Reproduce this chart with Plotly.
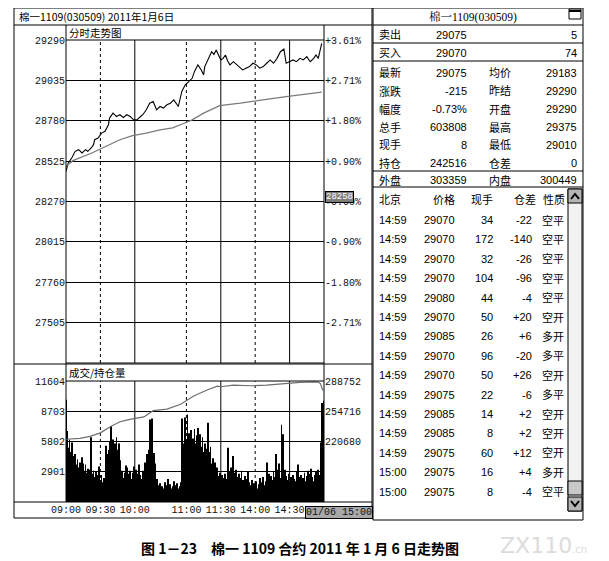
import plotly.graph_objects as go

# ---- data ----
price_ticks = [29290, 29035, 28780, 28525, 28270, 28015, 27760, 27505]
pct_labels = ["+3.61%", "+2.71%", "+1.80%", "+0.90%", "+0.00%", "-0.90%", "-1.80%", "-2.71%"]
vol_ticks = [2901, 5802, 8703, 11604]
oi_ticks = [220680, 254716, 288752]

time_ticks = [0, 30, 60, 105, 135, 165, 195]
time_labels = ["09:00", "09:30", "10:00", "11:00", "11:30", "14:00", "14:30"]
grid_min = [30, 60, 105, 135, 165, 195]
grid_dash = ["dot", "solid", "dot", "solid", "dot", "solid"]

# minute index from 09:00 (0..225)
price_min = [0, 2, 5, 8, 11, 14, 17, 19, 22, 24, 25, 28, 31, 34, 37, 38, 41, 44, 47, 50,
             53, 56, 59, 62, 65, 67, 70, 73, 76, 79, 82, 85, 88, 91, 94, 97, 98, 101, 104, 107,
             110, 112, 115, 118, 120, 121, 124, 127, 129, 131, 133, 135, 137, 139, 141, 143, 146, 149, 152, 154,
             157, 160, 163, 166, 169, 172, 175, 178, 181, 184, 187, 190, 192, 195, 198, 201, 204, 207, 210, 213,
             216, 218, 220, 223]
price_val = [28461, 28514, 28545, 28587, 28597, 28577, 28597, 28587, 28608, 28629, 28660, 28671, 28702, 28713, 28755, 28797, 28828, 28807, 28818, 28801,
             28818, 28807, 28786, 28786, 28807, 28818, 28849, 28891, 28902, 28849, 28870, 28860, 28881, 28891, 28912, 28881, 28870, 28965, 29007, 29027,
             29048, 29090, 29133, 29101, 29070, 29122, 29164, 29216, 29199, 29227, 29195, 29164, 29174, 29195, 29157, 29133, 29153, 29133, 29112, 29101,
             29112, 29122, 29143, 29133, 29112, 29122, 29143, 29164, 29143, 29174, 29216, 29233, 29143, 29153, 29164, 29153, 29174, 29164, 29185, 29153,
             29174, 29195, 29174, 29269]

avg_min = [0, 6, 23, 35, 47, 58, 70, 82, 93, 102, 110, 120, 134, 152, 166, 192, 223]
avg_val = [28493, 28528, 28578, 28618, 28660, 28686, 28702, 28723, 28735, 28761, 28786, 28828, 28876, 28891, 28906, 28933, 28961]

volume = [9800,
          6800, 5200, 6000,
          4800, 5700, 4400, 3900, 4600,
          3600, 4100, 3300, 3800, 3400, 4300, 3700,
          3000, 3600, 2800, 3200, 2600, 3100,
          6200,
          2700, 3000, 2400, 2900, 2300, 2600, 3400,
          2100, 2600, 1900, 2300, 2000,
          5400, 4600, 5000,
          5800, 7300,
          5200, 6000, 4800, 5600, 6200, 5000,
          5600, 4000,
          2600, 3000, 2300, 2800, 3500,
          3300, 2700, 2400, 3000, 2200,
          2800, 3400, 2500, 3100, 2300, 2700, 3600, 2600, 2200, 3000, 2400, 3800, 3200,
          4600, 5000, 7900, 4300,
          8000, 4400, 4700,
          3700, 2200, 1600,
          1400, 1800, 1200, 1500, 1300, 1900, 1100, 1600, 2200, 1400, 1700, 1300, 1500, 2000, 1200, 1600, 1800, 1300, 1500, 1900,
          8000, 5600, 4900,
          8100, 6000, 8400,
          6600, 5800, 6900, 5400, 6100, 7000, 5600, 6400, 7100,
          5900, 6500, 5300, 6200, 4800, 5600,
          4400, 5100, 7600,
          4800, 5300, 3700, 4200, 3400, 3800,
          2900, 3300, 2500, 2800, 2100, 2600, 2300, 2000, 2700, 2200,
          5200,
          2400, 2900, 3300, 2600, 4400, 2800, 3100, 2400, 2000,
          2700, 2300, 3000, 2100, 1800, 2500, 2200, 1700, 2900, 1900,
          1600, 2100, 1400, 1800, 1500, 2000, 1300, 1700, 2300, 1500,
          1900, 2400, 1600, 2000, 3800,
          2200, 2700, 1900, 2500,
          2100, 2900, 2400, 4600,
          2600, 3100, 3700,
          2300, 7400,
          6500, 2800, 3100,
          2500, 2100, 2700, 1900, 2400, 1800, 2600, 2200, 2000,
          2900, 3600, 2400,
          2100, 2600, 1900, 2300, 2800, 2000, 2500, 3000, 2200,
          2700, 3200, 2400, 2000, 2600, 2900,
          2300, 3100, 2600,
          5700, 9500, 8700, 9700]

oi_min = [0, 12, 21, 30, 39, 47, 53, 59, 68, 76, 88, 100, 111, 123, 132, 135, 146, 161, 175, 190, 204, 216, 220, 222, 224]
oi_val = [223190, 224300, 226400, 230400, 237500, 242900, 244700, 246500, 248300, 255400, 257200, 262600, 271500, 278700, 283000, 282300,
          284100, 283400, 284100, 285900, 287300, 287700, 287500, 285500, 278000]

# right hand quote panel
panel_title = "棉一1109(030509)"
sell_row = ["卖出", "29075", "5"]
buy_row = ["买入", "29070", "74"]
quote_rows = [["最新", "29075", "均价", "29183"],
              ["涨跌", "-215", "昨结", "29290"],
              ["幅度", "-0.73%", "开盘", "29290"],
              ["总手", "603808", "最高", "29375"],
              ["现手", "8", "最低", "29010"],
              ["持仓", "242516", "仓差", "0"]]
outer_row = ["外盘", "303359", "内盘", "300449"]
trade_head = ["北京", "价格", "现手", "仓差", "性质"]
trade_time = ["14:59", "14:59", "14:59", "14:59", "14:59", "14:59", "14:59", "14:59",
              "14:59", "14:59", "14:59", "14:59", "14:59", "15:00", "15:00"]
trade_price = [29070, 29070, 29070, 29070, 29080, 29070, 29085, 29070, 29070, 29075, 29085, 29085, 29075, 29075, 29075]
trade_vol = [34, 172, 32, 104, 44, 50, 26, 96, 50, 22, 14, 8, 60, 16, 8]
trade_oi = ["-22", "-140", "-26", "-96", "-4", "+20", "+6", "-20", "+26", "-6", "+2", "+2", "+12", "+4", "-4"]
trade_type = ["空平", "空平", "空平", "空平", "空平", "空开", "多开", "多平", "空开", "多平", "空开", "空开", "空开", "多开", "空平"]

W, H = 609, 561
OFF = 8  # page body margin, layout positions below are screen pixels
MONO = "Liberation Mono"
SANS = "Liberation Sans, Noto Sans CJK SC"
CJK = "Noto Sans CJK SC"


def X(px):
    return (px - OFF) / W


def Y(py):
    return 1 - (py - OFF) / H


fig = go.Figure()
# average price drawn on the percent axis (same range as price axis) so that axis gets drawn
fig.add_trace(go.Scatter(x=avg_min, y=avg_val, mode="lines", line=dict(color="#7a7a7a", width=1.3),
                         xaxis="x", yaxis="y4", hoverinfo="skip"))
fig.add_trace(go.Scatter(x=price_min, y=price_val, mode="lines", line=dict(color="black", width=1.1),
                         xaxis="x", yaxis="y"))
fig.add_trace(go.Bar(x=list(range(len(volume))), y=volume, marker=dict(color="black", line=dict(width=0)),
                     xaxis="x2", yaxis="y2"))
fig.add_trace(go.Scatter(x=oi_min, y=oi_val, mode="lines", line=dict(color="#6e6e6e", width=1.2),
                         xaxis="x2", yaxis="y3"))

tick_font = dict(family=MONO, size=10, color="#111")
xdom = [X(66), X(324)]
ax_common = dict(automargin=False, zeroline=False, ticks="", tickfont=tick_font, tickformat="d")
fig.update_layout(
    template="none",
    width=W, height=H, margin=dict(l=0, r=0, t=0, b=0, pad=0), autosize=False,
    paper_bgcolor="white", plot_bgcolor="white", showlegend=False, bargap=0.25,
    xaxis=dict(domain=xdom, range=[0, 225], anchor="y", showticklabels=False, showgrid=False,
               showline=False, **ax_common),
    yaxis=dict(domain=[Y(363), Y(40)], range=[27250, 29290], anchor="x", tickvals=price_ticks,
               showgrid=True, gridcolor="black", gridwidth=1, showline=False, **ax_common),
    yaxis4=dict(overlaying="y", side="right", anchor="x", range=[27250, 29290], tickvals=price_ticks,
                ticktext=pct_labels, showgrid=False, showline=False, **ax_common),
    xaxis2=dict(domain=xdom, range=[0, 225], anchor="y2", tickvals=time_ticks, ticktext=time_labels,
                showgrid=False, showline=False, **ax_common),
    yaxis2=dict(domain=[Y(502), Y(381)], range=[0, 11604], anchor="x2", tickvals=vol_ticks,
                showgrid=True, gridcolor="black", gridwidth=1, showline=False, **ax_common),
    yaxis3=dict(overlaying="y2", side="right", anchor="x2", range=[152608, 288752], tickvals=oi_ticks,
                showgrid=False, showline=False, **ax_common),
)

shapes = []
# vertical time grid lines
for m, d in zip(grid_min, grid_dash):
    for xr, yr in (("x", "y domain"), ("x2", "y2 domain")):
        shapes.append(dict(type="line", xref=xr, yref=yr, x0=m, x1=m, y0=0, y1=1, layer="below",
                           line=dict(color="black", width=1, dash=d)))


def pline(x0, y0, x1, y1, w=1, color="black"):
    shapes.append(dict(type="line", xref="paper", yref="paper", x0=X(x0), y0=Y(y0), x1=X(x1), y1=Y(y1),
                       line=dict(color=color, width=w)))


def prect(x0, y0, x1, y1, w=1, fill=None, color="black"):
    shapes.append(dict(type="rect", xref="paper", yref="paper", x0=X(x0), y0=Y(y0), x1=X(x1), y1=Y(y1),
                       line=dict(color=color, width=w), fillcolor=fill))


# left panel frame
prect(14, 8, 372, 518)
pline(14, 25, 372, 25)
pline(14, 364, 372, 364)
pline(14, 502, 372, 502)
pline(66, 25, 66, 502)
pline(324, 25, 324, 502)
pline(66, 40, 324, 40)
pline(66, 363, 324, 363)
pline(66, 381, 324, 381)

# right panel frame
prect(373, 8, 583, 520)
for yy in (25, 43, 61, 171, 187):
    pline(373, yy, 583, yy)
# small window icon
prect(569, 9, 581, 19, fill="white")
pline(569, 11, 581, 11, w=2)
# scrollbar
prect(568, 189, 582, 511, fill="#f2f2f2")
prect(568, 189, 582, 203, fill="#b5b5b5")
prect(568, 497, 582, 511, fill="#b5b5b5")
prect(568, 481, 582, 495, fill="#c8c8c8")
shapes.append(dict(type="path", xref="paper", yref="paper",
                   path="M %f %f L %f %f L %f %f" % (X(571), Y(199), X(575), Y(194), X(579), Y(199)),
                   line=dict(color="black", width=2)))
shapes.append(dict(type="path", xref="paper", yref="paper",
                   path="M %f %f L %f %f L %f %f" % (X(571), Y(501), X(575), Y(506), X(579), Y(501)),
                   line=dict(color="black", width=2)))
fig.update_layout(shapes=shapes)

ann = []


def txt(s, px, py, anchor="left", size=11, family=SANS, color="black", **kw):
    ann.append(dict(text=s, x=X(px), y=Y(py), xref="paper", yref="paper", showarrow=False,
                    xanchor=anchor, yanchor="middle", font=dict(family=family, size=size, color=color), **kw))


txt("棉一1109(030509) 2011年1月6日", 17, 16.5, size=10.5, family=CJK)
txt("分时走势图", 67, 32.5, size=10.5, family=CJK)
txt("成交/持仓量", 67, 372.5, size=10.5, family=CJK)
txt("28258", 339, 197, anchor="center", size=9, family=MONO, color="white",
    bgcolor="#7d7d7d", bordercolor="black", borderwidth=1, borderpad=0)
txt("01/06 15:00", 339, 512, anchor="center", size=10, family=MONO, color="#111",
    bgcolor="#a8a8a8", bordercolor="black", borderwidth=1, borderpad=0)

# quote panel text
txt(panel_title, 473, 17, anchor="center", size=11.5, family="Liberation Serif, Noto Serif CJK SC, Noto Sans CJK SC")
txt(sell_row[0], 377, 34.5)
txt(sell_row[1], 469, 34.5, anchor="right")
txt(sell_row[2], 579, 34.5, anchor="right")
txt(buy_row[0], 377, 52.5)
txt(buy_row[1], 469, 52.5, anchor="right")
txt(buy_row[2], 579, 52.5, anchor="right")
for i, r in enumerate(quote_rows):
    yy = 73 + i * 18
    txt(r[0], 377, yy)
    txt(r[1], 469, yy, anchor="right")
    txt(r[2], 487, yy)
    txt(r[3], 579, yy, anchor="right")
txt(outer_row[0], 377, 180)
txt(outer_row[1], 469, 180, anchor="right")
txt(outer_row[2], 487, 180)
txt(outer_row[3], 579, 180, anchor="right")

txt(trade_head[0], 377, 199)
txt(trade_head[1], 457, 199, anchor="right")
txt(trade_head[2], 495, 199, anchor="right")
txt(trade_head[3], 538, 199, anchor="right")
txt(trade_head[4], 541, 199)
for i in range(len(trade_time)):
    yy = 220 + i * 19.4
    txt(trade_time[i], 377, yy)
    txt(str(trade_price[i]), 457, yy, anchor="right")
    txt(str(trade_vol[i]), 495, yy, anchor="right")
    txt(trade_oi[i], 534, yy, anchor="right")
    txt(trade_type[i], 540, yy)

# caption and watermark
txt("<b>图 1－23　棉一 1109 合约 2011 年 1 月 6 日走势图</b>", 300, 548, anchor="center", size=14, family=CJK)
txt("ZX110<span style='font-size:10px'>.cn</span>", 543, 545, anchor="center", size=22,
    family="DejaVu Sans", color="#dcdcdc")

fig.update_layout(annotations=ann)
fig.write_html("out.html")
